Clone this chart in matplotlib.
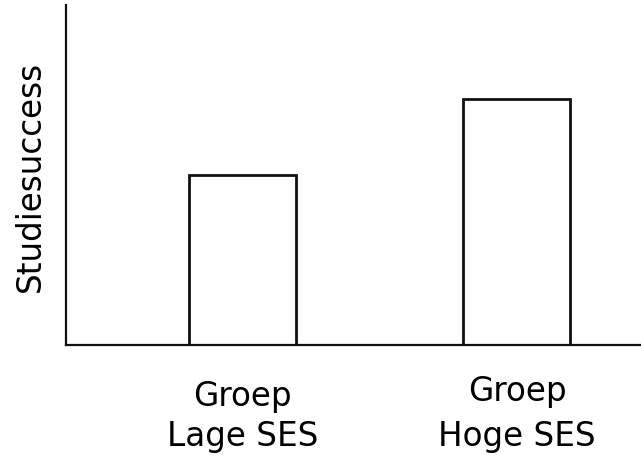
import matplotlib
matplotlib.use("Agg")
import matplotlib.pyplot as plt
import matplotlib.transforms as mtransforms

categories = ["Groep\nLage SES", "Groep\nHoge SES"]
values = [5.0, 7.25]

plt.rcParams['font.family'] = ['DejaVu Sans']

fig = plt.figure(figsize=(6.41, 4.56), dpi=100)
ax = fig.add_axes([66/641, 1-346/456, 1-66/641, (346-6)/456])

x = list(range(len(categories)))
ax.bar(x, values, width=0.39, facecolor='white', edgecolor='#111111', linewidth=2)

ax.set_xlim(-0.643, 1.452)
ax.set_ylim(0, 10)
ax.set_xticks(x)
ax.set_xticklabels([])
ax.tick_params(axis='x', length=0)
ax.set_yticks([])
ax.set_ylabel("Studiesuccess", fontsize=23.5, labelpad=14)

trans = mtransforms.blended_transform_factory(ax.transData, fig.transFigure)
spacings = [1.25, 1.47]
for xi, lab, ls in zip(x, categories, spacings):
    ax.text(xi, 1 - 453/456, lab, transform=trans, ha='center', va='bottom',
            multialignment='center', fontsize=23.5, linespacing=ls, clip_on=False)

for s in ['top', 'right']:
    ax.spines[s].set_visible(False)
for s in ['left', 'bottom']:
    ax.spines[s].set_linewidth(1.6)
    ax.spines[s].set_color('#111111')

fig.savefig("out.png", dpi=100)
